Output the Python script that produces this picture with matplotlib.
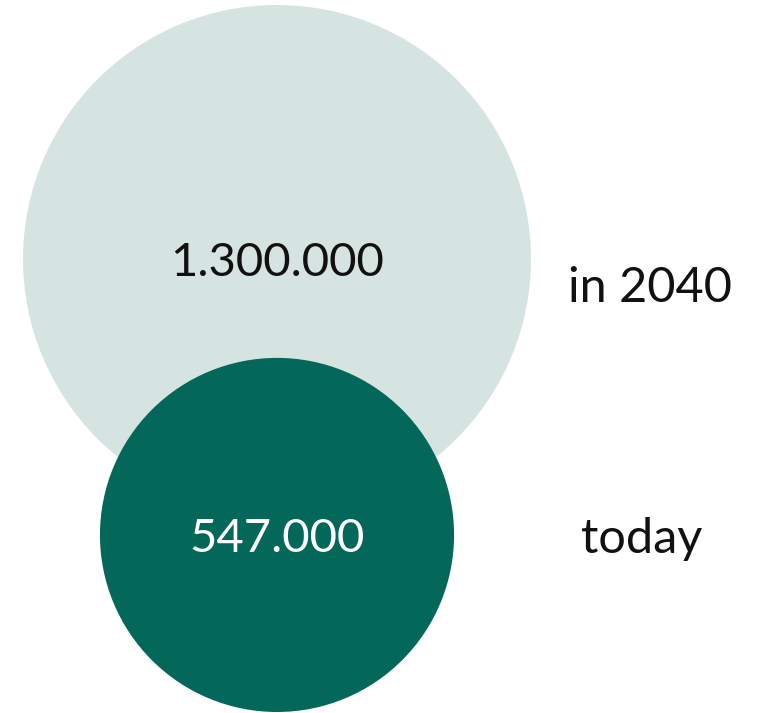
import matplotlib
matplotlib.use("Agg")
import matplotlib.pyplot as plt
from matplotlib.patches import Circle

# data
labels = ["in 2040", "today"]
values = [1300000, 547000]
value_text = ["1.300.000", "547.000"]
fill_colors = ["#d6e4e1", "#03685a"]
text_colors = ["#111111", "#ffffff"]

W, H = 769, 713
r_max, r_min = 254, 35
cx = 277
label_x = [650, 642]

def radius(v):
  # sqrt scale with a small offset
  return r_min + (r_max - r_min) * (v / max(values)) ** 0.5

fig = plt.figure(figsize=(W/100, H/100), dpi=100)
ax = fig.add_axes([0, 0, 1, 1])
ax.set_xlim(0, W); ax.set_ylim(H, 0)
ax.set_aspect("equal"); ax.axis("off")

plt.rcParams['font.family'] = ['Lato', 'DejaVu Sans']

r0 = radius(values[0]); r1 = radius(values[1])
centers = [5 + r0, H - 1 - r1]
label_y = [centers[0] + 25, centers[1]]

for i in range(len(values)):
  r = radius(values[i])
  ax.add_patch(Circle((cx, centers[i]), r, facecolor=fill_colors[i], edgecolor="none"))
  ax.text(cx, centers[i], value_text[i], ha="center", va="center_baseline",
          fontsize=34, color=text_colors[i])
  ax.text(label_x[i], label_y[i], labels[i], ha="center", va="center_baseline",
          fontsize=35, color="#111111")

fig.savefig("out.png", dpi=100)
